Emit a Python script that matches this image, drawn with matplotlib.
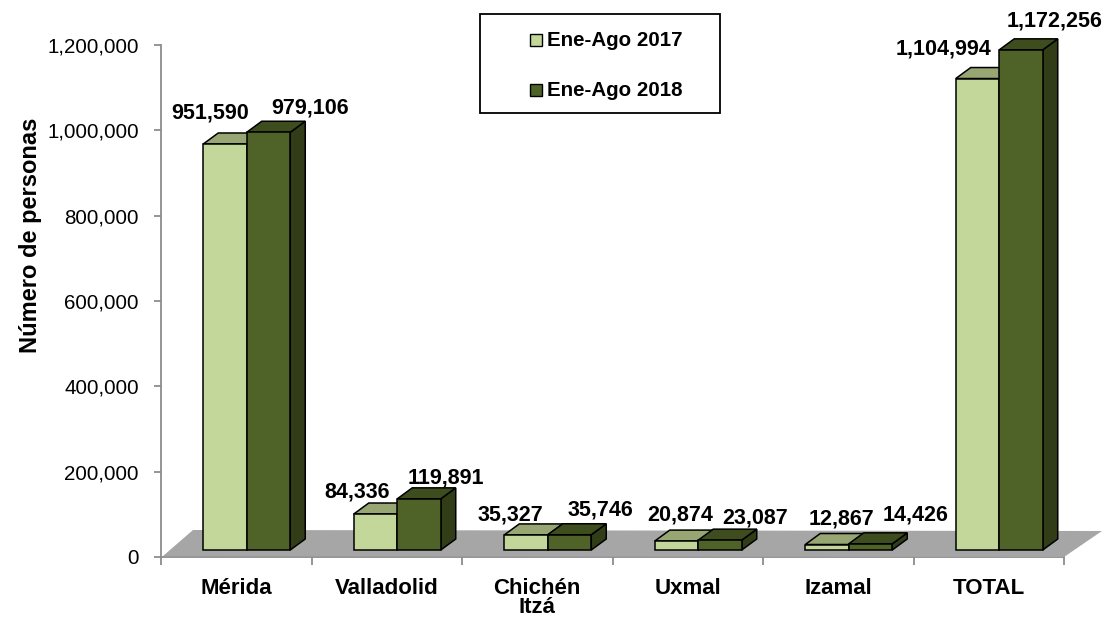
import matplotlib
matplotlib.use("Agg")
import matplotlib.pyplot as plt
from matplotlib.patches import Polygon, Rectangle
from matplotlib.ticker import FuncFormatter, FixedLocator

# ---------------- data ----------------
categories = ["Mérida", "Valladolid", "Chichén\nItzá", "Uxmal", "Izamal", "TOTAL"]
series_names = ["Ene-Ago 2017", "Ene-Ago 2018"]
values_2017 = [951590, 84336, 35327, 20874, 12867, 1104994]
values_2018 = [979106, 119891, 35746, 23087, 14426, 1172256]
y_ticks = [0, 200000, 400000, 600000, 800000, 1000000, 1200000]

# ---------------- style / layout ----------------
W, H = 1107, 625
AX_L, AX_R, AX_T, AX_B = 161, 1064, 45, 557      # axes box in pixels
YMAX = 1200000
PX_X = (AX_R - AX_L) / len(categories)             # px per category unit
PX_Y = (AX_B - AX_T) / YMAX                        # px per value unit

BAR_W = 43.5 / PX_X
GROUP_SHIFT = 10.5 / PX_X
BASE = 7 / PX_Y                                    # front plane lifted above axis
DDX, DDY = 15 / PX_X, 11 / PX_Y                    # 3D depth offset

colors_front = ["#C4D79B", "#4F6228"]
colors_top = ["#97A672", "#3E4D1E"]
colors_side = ["#7F8F5C", "#313D17"]
floor_color = "#A6A6A6"
axis_color = "#8C8C8C"

label_offsets_2017 = [(-15, 31), (-18, 22), (-16, 20), (4, 26), (15, 26), (-34, 30)]
label_offsets_2018 = [(42, 24), (27, 21), (31, 25), (35, 22), (45, 29), (34, 29)]

FONT = "Liberation Sans"
plt.rcParams["font.family"] = [FONT, "DejaVu Sans"]

fig = plt.figure(figsize=(W / 100, H / 100), dpi=100)
ax = fig.add_axes([AX_L / W, 1 - AX_B / H, (AX_R - AX_L) / W, (AX_B - AX_T) / H])
ax.set_xlim(-0.5, len(categories) - 0.5)
ax.set_ylim(0, YMAX)


def px2data(px, py):
    return ((px - AX_L) / PX_X - 0.5, (AX_B - py) / PX_Y)


# floor
floor_px = [(163, 556), (1064, 557), (1102, 531), (193, 530)]
ax.add_patch(Polygon([px2data(*p) for p in floor_px], closed=True,
                     facecolor=floor_color, edgecolor="none", zorder=1,
                     clip_on=False))

lw = 1.1
all_vals = [values_2017, values_2018]
all_offs = [label_offsets_2017, label_offsets_2018]
for i in range(len(categories)):
    gc = i + GROUP_SHIFT
    for s in range(2):
        v = all_vals[s][i]
        x0 = gc - BAR_W if s == 0 else gc
        x1 = x0 + BAR_W
        top = BASE + v
        z = 3 + s
        side = [(x1, BASE), (x1, top), (x1 + DDX, top + DDY), (x1 + DDX, BASE + DDY)]
        topf = [(x0, top), (x1, top), (x1 + DDX, top + DDY), (x0 + DDX, top + DDY)]
        ax.add_patch(Polygon(side, closed=True, facecolor=colors_side[s],
                             edgecolor="black", lw=lw, zorder=z, clip_on=False,
                             joinstyle="miter"))
        ax.add_patch(Polygon(topf, closed=True, facecolor=colors_top[s],
                             edgecolor="black", lw=lw, zorder=z, clip_on=False,
                             joinstyle="miter"))
        ax.bar(x0, v, width=BAR_W, bottom=BASE, align="edge",
               color=colors_front[s], edgecolor="black", linewidth=lw,
               zorder=z, clip_on=False)
        dx, dy = all_offs[s][i]
        ax.annotate(f"{v:,}", xy=(x0 + BAR_W / 2, top), xytext=(dx, dy),
                    textcoords="offset pixels", ha="center", va="center",
                    fontsize=15.5, fontweight="bold", zorder=10,
                    annotation_clip=False)

# axes styling
for sp in ["top", "right"]:
    ax.spines[sp].set_visible(False)
for sp in ["left", "bottom"]:
    ax.spines[sp].set_color(axis_color)
    ax.spines[sp].set_linewidth(1.3)
    ax.spines[sp].set_zorder(0.5)

ax.yaxis.set_major_locator(FixedLocator(y_ticks))
ax.yaxis.set_major_formatter(FuncFormatter(lambda v, p: f"{int(v):,}"))
ax.tick_params(axis="y", direction="out", length=5, width=1.3, color=axis_color,
               pad=11, labelsize=14.8)

ax.set_xticks(range(len(categories)))
ax.set_xticklabels(categories, fontsize=16, fontweight="bold", linespacing=0.9)
ax.tick_params(axis="x", which="major", length=0, pad=15)
ax.set_xticks([i - 0.5 for i in range(len(categories) + 1)], minor=True)
ax.tick_params(axis="x", which="minor", direction="out", length=6, width=1.3,
               color=axis_color)

fig.text(30 / W, 1 - 235 / H, "Número de personas", rotation=90,
         ha="center", va="center", fontsize=17, fontweight="bold")

# legend (manual box)
fig.patches.append(Rectangle((480 / W, 1 - 113 / H), 240 / W, 99 / H,
                             transform=fig.transFigure, facecolor="white",
                             edgecolor="black", lw=1.3, zorder=20))
for s, yc in enumerate([40, 90]):
    fig.patches.append(Rectangle((530 / W, 1 - (yc + 6) / H), 12 / W, 12 / H,
                                 transform=fig.transFigure,
                                 facecolor=colors_front[s], edgecolor="black",
                                 lw=1.0, zorder=21))
    fig.text(547 / W, 1 - yc / H, series_names[s], ha="left", va="center",
             fontsize=14.8, fontweight="bold", zorder=22)

fig.savefig("out.png", dpi=100)
